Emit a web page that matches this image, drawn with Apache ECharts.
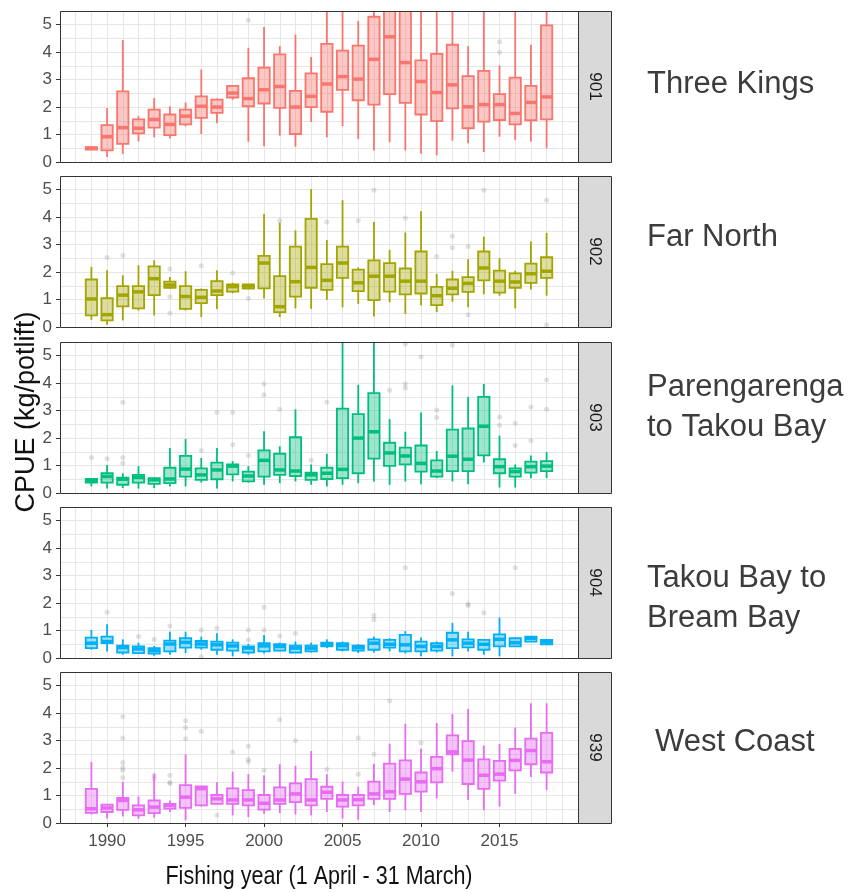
<!DOCTYPE html>
<html>
<head>
<meta charset="utf-8">
<script src="https://cdn.jsdelivr.net/npm/echarts@6/dist/echarts.min.js"></script>
<style>
  html, body { margin: 0; padding: 0; background: #fff; }
  #chart { width: 853px; height: 892px; }
</style>
</head>
<body>
<div id="chart"></div>
<script>
// Fishing years (1 April - 31 March)
const years = [1989, 1990, 1991, 1992, 1993, 1994, 1995, 1996, 1997, 1998,
               1999, 2000, 2001, 2002, 2003, 2004, 2005, 2006, 2007, 2008,
               2009, 2010, 2011, 2012, 2013, 2014, 2015, 2016, 2017, 2018];

const areaCodes = ['901', '902', '903', '904', '939'];
const areaNames = ['Three Kings', 'Far North', 'Parengarenga\nto Takou Bay', 'Takou Bay to\nBream Bay', 'West Coast'];

const yTicks = [0, 1, 2, 3, 4, 5];
const xTicks = [1990, 1995, 2000, 2005, 2010, 2015];

// CPUE (kg/potlift) per year: [lower whisker, Q1, median, Q3, upper whisker]
const cpue901 = [
  [0.44, 0.45, 0.50, 0.54, 0.56], [0.18, 0.42, 0.92, 1.34, 1.97], [0.30, 0.66, 1.25, 2.57, 4.44],
  [0.75, 1.04, 1.23, 1.55, 1.67], [0.90, 1.25, 1.55, 1.91, 2.33], [0.86, 0.98, 1.37, 1.73, 2.03],
  [1.30, 1.37, 1.67, 1.91, 2.17], [1.02, 1.61, 2.03, 2.39, 3.37], [1.41, 1.79, 2.00, 2.27, 2.31],
  [2.27, 2.35, 2.51, 2.77, 2.77], [0.74, 2.03, 2.31, 3.05, 4.16], [0.57, 2.13, 2.63, 3.44, 4.92],
  [0.96, 1.97, 2.75, 3.92, 4.22], [0.56, 1.02, 2.00, 2.59, 4.64], [1.46, 2.00, 2.39, 3.23, 3.82],
  [0.90, 1.83, 2.84, 4.30, 6.00], [1.31, 2.63, 3.11, 4.06, 5.80], [0.84, 2.25, 3.02, 4.24, 5.14],
  [0.42, 2.09, 3.74, 5.29, 6.20], [0.72, 2.47, 4.56, 5.80, 7.00], [0.42, 2.15, 3.62, 5.70, 7.00],
  [0.30, 1.73, 2.93, 3.70, 6.00], [0.24, 1.49, 2.53, 3.94, 6.00], [0.78, 1.95, 2.81, 4.27, 6.00],
  [0.68, 1.23, 2.01, 3.13, 4.22], [0.36, 1.47, 2.09, 3.32, 6.00], [0.92, 1.53, 2.09, 2.47, 3.52],
  [0.80, 1.37, 1.77, 3.07, 6.00], [0.75, 1.52, 2.17, 2.77, 4.27], [0.50, 1.55, 2.37, 4.98, 6.00]
];
const cpue902 = [
  [0.26, 0.42, 1.02, 1.73, 2.19], [0.08, 0.24, 0.45, 1.05, 2.07], [0.24, 0.75, 1.16, 1.49, 1.88],
  [0.60, 0.68, 1.28, 1.49, 2.25], [0.42, 1.16, 1.76, 2.21, 2.43], [1.40, 1.43, 1.53, 1.65, 1.82],
  [0.60, 0.66, 1.11, 1.49, 2.03], [0.36, 0.87, 1.08, 1.35, 1.40], [0.66, 1.16, 1.31, 1.67, 2.07],
  [1.23, 1.29, 1.47, 1.55, 1.61], [1.38, 1.40, 1.49, 1.55, 1.57], [1.04, 1.41, 2.33, 2.59, 4.12],
  [0.36, 0.54, 0.74, 1.85, 3.80], [0.68, 1.11, 1.65, 2.93, 3.52], [0.66, 1.43, 2.17, 3.94, 5.02],
  [0.99, 1.35, 1.70, 2.29, 3.17], [0.72, 1.79, 2.33, 2.93, 4.62], [0.84, 1.31, 1.61, 2.09, 2.17],
  [0.38, 0.98, 1.85, 2.43, 3.82], [0.90, 1.29, 1.85, 2.33, 2.81], [0.48, 1.19, 1.67, 2.13, 3.44],
  [0.78, 1.22, 1.67, 2.75, 4.22], [0.54, 0.80, 1.14, 1.46, 1.94], [0.92, 1.19, 1.41, 1.73, 2.05],
  [0.72, 1.28, 1.59, 1.82, 2.47], [1.19, 1.70, 2.15, 2.75, 3.29], [1.14, 1.25, 1.67, 2.05, 2.51],
  [0.68, 1.43, 1.64, 1.95, 2.05], [1.37, 1.61, 1.94, 2.31, 3.11], [1.14, 1.79, 2.03, 2.54, 3.43]
];
const cpue903 = [
  [0.24, 0.38, 0.45, 0.51, 0.54], [0.16, 0.38, 0.60, 0.72, 1.02], [0.18, 0.30, 0.50, 0.56, 0.72],
  [0.16, 0.38, 0.57, 0.66, 0.98], [0.18, 0.33, 0.48, 0.54, 0.56], [0.24, 0.36, 0.51, 0.92, 1.64],
  [0.24, 0.60, 0.87, 1.35, 1.97], [0.38, 0.48, 0.66, 0.90, 1.28], [0.16, 0.50, 0.84, 1.11, 1.64],
  [0.42, 0.68, 0.98, 1.04, 1.16], [0.38, 0.42, 0.62, 0.78, 0.98], [0.30, 0.60, 1.19, 1.55, 2.25],
  [0.36, 0.66, 0.84, 1.43, 1.70], [0.42, 0.62, 0.80, 2.03, 3.05], [0.30, 0.48, 0.66, 0.74, 1.04],
  [0.24, 0.51, 0.72, 0.92, 1.43], [0.30, 0.54, 0.86, 3.07, 6.00], [0.36, 0.72, 2.00, 2.87, 3.94],
  [0.42, 1.25, 2.23, 3.64, 6.00], [0.30, 0.99, 1.46, 1.83, 2.69], [0.42, 1.04, 1.35, 1.65, 2.23],
  [0.32, 0.78, 1.08, 1.73, 2.93], [0.54, 0.60, 0.80, 1.19, 1.53], [0.42, 0.80, 1.34, 2.31, 3.92],
  [0.32, 0.80, 1.23, 2.35, 3.50], [1.11, 1.37, 2.43, 3.50, 3.97], [0.20, 0.72, 0.96, 1.23, 2.09],
  [0.20, 0.60, 0.78, 0.90, 1.04], [0.54, 0.74, 0.96, 1.14, 1.37], [0.54, 0.80, 0.98, 1.16, 1.49]
];
const cpue904 = [
  [0.30, 0.36, 0.54, 0.74, 1.02], [0.24, 0.54, 0.60, 0.78, 1.23], [0.12, 0.20, 0.38, 0.45, 0.68],
  [0.16, 0.18, 0.33, 0.42, 0.56], [0.08, 0.16, 0.27, 0.36, 0.44], [0.12, 0.24, 0.51, 0.63, 0.96],
  [0.18, 0.38, 0.57, 0.72, 0.96], [0.30, 0.38, 0.51, 0.62, 0.78], [0.12, 0.30, 0.48, 0.60, 0.90],
  [0.06, 0.27, 0.44, 0.56, 0.68], [0.12, 0.20, 0.36, 0.42, 0.51], [0.16, 0.24, 0.44, 0.54, 0.84],
  [0.24, 0.27, 0.42, 0.50, 0.56], [0.18, 0.20, 0.36, 0.45, 0.60], [0.20, 0.24, 0.36, 0.45, 0.56],
  [0.36, 0.42, 0.50, 0.56, 0.68], [0.24, 0.30, 0.45, 0.54, 0.60], [0.18, 0.27, 0.38, 0.45, 0.50],
  [0.20, 0.30, 0.54, 0.68, 0.78], [0.24, 0.38, 0.50, 0.66, 0.72], [0.16, 0.24, 0.48, 0.84, 0.98],
  [0.06, 0.24, 0.42, 0.60, 0.75], [0.20, 0.27, 0.42, 0.54, 0.60], [0.06, 0.36, 0.66, 0.92, 1.28],
  [0.24, 0.39, 0.54, 0.68, 0.96], [0.12, 0.30, 0.50, 0.66, 0.68], [0.06, 0.42, 0.68, 0.86, 1.47],
  [0.42, 0.42, 0.56, 0.72, 0.75], [0.58, 0.60, 0.72, 0.78, 0.80], [0.48, 0.50, 0.60, 0.66, 0.68]
];
const cpue939 = [
  [0.31, 0.37, 0.52, 1.24, 2.22], [0.16, 0.40, 0.55, 0.67, 0.67], [0.24, 0.48, 0.82, 0.91, 1.50],
  [0.16, 0.28, 0.48, 0.64, 0.97], [0.19, 0.36, 0.58, 0.82, 1.80], [0.40, 0.52, 0.64, 0.70, 0.82],
  [0.10, 0.55, 0.94, 1.38, 2.50], [0.60, 0.64, 1.25, 1.33, 1.33], [0.70, 0.70, 0.88, 1.02, 1.48],
  [0.28, 0.70, 0.84, 1.26, 1.87], [0.22, 0.64, 0.84, 1.20, 1.78], [0.34, 0.49, 0.72, 1.02, 1.74],
  [0.36, 0.70, 0.84, 1.30, 2.14], [0.31, 0.76, 1.06, 1.44, 2.08], [0.28, 0.64, 0.84, 1.60, 2.62],
  [0.40, 0.88, 1.12, 1.32, 1.78], [0.16, 0.60, 0.84, 1.02, 1.51], [0.12, 0.64, 0.85, 1.02, 1.32],
  [0.66, 0.88, 1.06, 1.51, 2.16], [0.40, 0.88, 1.14, 2.16, 2.89], [0.46, 1.06, 1.60, 2.28, 3.61],
  [0.40, 1.14, 1.50, 1.84, 2.70], [0.90, 1.48, 1.98, 2.41, 3.64], [1.87, 2.50, 2.59, 3.19, 3.97],
  [0.84, 1.42, 2.29, 2.98, 4.15], [0.46, 1.24, 1.74, 2.32, 2.82], [0.60, 1.54, 1.78, 2.26, 2.88],
  [1.06, 1.92, 2.28, 2.70, 3.48], [1.68, 2.14, 2.64, 3.07, 4.36], [1.20, 1.84, 2.23, 3.28, 4.36]
];

// Outlying observations: [year, CPUE]
const outliers901 = [[1999, 5.16], [2015, 4.38], [2015, 4.00]];
const outliers902 = [
  [1990, 2.53], [1991, 2.60], [1994, 2.11], [1994, 1.10], [1994, 0.50], [1996, 2.23], [1998, 1.97],
  [1999, 1.04], [2001, 3.88], [2004, 3.82], [2006, 3.88], [2007, 4.98], [2009, 3.97], [2011, 2.57],
  [2012, 3.31], [2012, 2.89], [2013, 2.93], [2013, 0.45], [2014, 4.98], [2018, 4.62], [2018, 0.08]
];
const outliers903 = [
  [1989, 1.29], [1990, 1.25], [1991, 3.31], [1991, 1.29], [1991, 1.08], [1996, 1.55], [1997, 2.93],
  [1998, 2.93], [1998, 1.76], [1999, 1.37], [2000, 3.97], [2000, 3.58], [2001, 3.05], [2003, 1.19],
  [2004, 3.31], [2008, 3.74], [2009, 3.97], [2009, 3.82], [2009, 5.43], [2010, 4.96], [2011, 3.02],
  [2011, 2.75], [2012, 5.38], [2015, 2.77], [2015, 2.47], [2016, 2.54], [2016, 1.73], [2017, 3.13],
  [2017, 1.91], [2018, 4.12], [2018, 3.05]
];
const outliers904 = [
  [1990, 1.67], [1992, 0.78], [1993, 0.68], [1994, 1.17], [1996, 1.02], [1996, 0.05], [1997, 1.08],
  [1999, 1.02], [1999, 0.66], [2000, 1.85], [2000, 1.02], [2001, 0.80], [2002, 0.90], [2007, 1.55],
  [2007, 1.40], [2009, 3.29], [2012, 2.35], [2013, 1.97], [2013, 1.91], [2014, 1.65], [2016, 3.29]
];
const outliers939 = [
  [1991, 3.88], [1991, 3.10], [1991, 2.20], [1991, 2.02], [1991, 1.92], [1991, 1.66], [1993, 1.72],
  [1993, 1.60], [1994, 1.74], [1994, 1.48], [1994, 1.44], [1995, 3.72], [1995, 3.48], [1995, 3.07],
  [1996, 3.34], [1997, 0.28], [1998, 2.59], [1999, 2.80], [1999, 2.32], [1999, 2.23], [2000, 1.92],
  [2001, 3.76], [2002, 3.00], [2004, 1.96], [2006, 3.10], [2006, 1.78], [2007, 2.50], [2008, 4.45],
  [2010, 2.92]
];

const cpueByArea = [cpue901, cpue902, cpue903, cpue904, cpue939];
const outliersByArea = [outliers901, outliers902, outliers903, outliers904, outliers939];

// Styling
const lineColors = ['#F8766D', '#A3A500', '#00BF7D', '#00B0F6', '#E76BF3'];
const fillColors = ['rgba(248,118,109,0.40)', 'rgba(163,165,0,0.38)', 'rgba(0,191,125,0.38)',
                    'rgba(0,176,246,0.38)', 'rgba(231,107,243,0.40)'];
const FONT = "'Liberation Sans', Arial, Helvetica, sans-serif";
const GRID_LINE = '#e6e6e6';

// Facet layout
const PANEL_TOPS = [11, 176, 342, 507, 672];
const PANEL_H = 151;
const PANEL_LEFT = 60;
const PANEL_W = 518;
const STRIP_W = 33;
const BOX_HALF = 0.36;
const N = PANEL_TOPS.length;

function boxRenderer(stroke, fill) {
  return function (params, api) {
    const x = api.value(0);
    const lo = api.value(1), q1 = api.value(2), med = api.value(3), q3 = api.value(4), hi = api.value(5);
    const tl = api.coord([x - BOX_HALF, q3]);
    const br = api.coord([x + BOX_HALF, q1]);
    const m0 = api.coord([x - BOX_HALF, med]);
    const m1 = api.coord([x + BOX_HALF, med]);
    const top = api.coord([x, hi]);
    const bot = api.coord([x, lo]);
    const cx = top[0];
    return {
      type: 'group',
      children: [
        { type: 'line', shape: { x1: cx, y1: top[1], x2: cx, y2: tl[1] }, style: { stroke: stroke, lineWidth: 1.8 } },
        { type: 'line', shape: { x1: cx, y1: br[1], x2: cx, y2: bot[1] }, style: { stroke: stroke, lineWidth: 1.8 } },
        { type: 'rect', shape: { x: tl[0], y: tl[1], width: br[0] - tl[0], height: br[1] - tl[1] },
          style: { fill: fill, stroke: stroke, lineWidth: 1.8 } },
        { type: 'line', shape: { x1: m0[0], y1: m0[1], x2: m1[0], y2: m1[1] }, style: { stroke: stroke, lineWidth: 3.5 } }
      ]
    };
  };
}

const grids = [], xAxes = [], yAxes = [], series = [], graphics = [];
const plainLabel = function (v) { return String(v); };

// axes 0..N-1 carry ticks and labels, axes N..2N-1 carry the background grid lines
PANEL_TOPS.forEach(function (top, i) {
  const isBottom = i === N - 1;
  grids.push({ left: PANEL_LEFT, top: top, width: PANEL_W, height: PANEL_H, show: false });

  xAxes[i] = {
    type: 'value', gridIndex: i, position: 'bottom', min: 1987, max: 2020, interval: 1,
    axisLine: { show: false },
    splitLine: { show: false },
    axisTick: { show: isBottom, customValues: xTicks, length: 4, lineStyle: { color: '#333', width: 1 } },
    axisLabel: { show: isBottom, customValues: xTicks, formatter: plainLabel, margin: 10,
                 fontSize: 17, color: '#4d4d4d', fontFamily: FONT }
  };
  xAxes[N + i] = {
    type: 'value', gridIndex: i, position: 'top', min: 1987, max: 2020, interval: 1,
    axisLine: { show: false }, axisTick: { show: false }, axisLabel: { show: false },
    splitLine: { show: true, lineStyle: { color: GRID_LINE, width: 1 } }
  };

  yAxes[i] = {
    type: 'value', gridIndex: i, position: 'left', min: 0, max: 5.5, interval: 0.5,
    axisLine: { show: false },
    splitLine: { show: false },
    axisTick: { show: true, customValues: yTicks, length: 4, lineStyle: { color: '#333', width: 1 } },
    axisLabel: { customValues: yTicks, formatter: plainLabel, margin: 8,
                 fontSize: 17, color: '#4d4d4d', fontFamily: FONT }
  };
  yAxes[N + i] = {
    type: 'value', gridIndex: i, position: 'right', min: 0, max: 5.5, interval: 0.5,
    axisLine: { show: false }, axisTick: { show: false }, axisLabel: { show: false },
    splitLine: { show: true, lineStyle: { color: GRID_LINE, width: 1 } }
  };

  series.push({
    type: 'scatter', xAxisIndex: i, yAxisIndex: i, clip: true, silent: true, z: 2,
    symbolSize: 5, itemStyle: { color: 'rgba(140,140,140,0.32)' },
    data: outliersByArea[i]
  });

  series.push({
    type: 'custom', xAxisIndex: i, yAxisIndex: i, clip: true, silent: true, z: 3,
    renderItem: boxRenderer(lineColors[i], fillColors[i]),
    encode: { x: 0, y: [1, 2, 3, 4, 5] },
    data: years.map(function (y, k) { return [y].concat(cpueByArea[i][k]); })
  });

  // panel border
  graphics.push({
    type: 'rect', z: 100, silent: true,
    shape: { x: PANEL_LEFT + 0.5, y: top + 0.5, width: PANEL_W, height: PANEL_H },
    style: { fill: 'none', stroke: '#333', lineWidth: 1 }
  });
  // facet strip
  graphics.push({
    type: 'rect', z: 100, silent: true,
    shape: { x: PANEL_LEFT + PANEL_W + 0.5, y: top + 0.5, width: STRIP_W, height: PANEL_H },
    style: { fill: '#d9d9d9', stroke: '#333', lineWidth: 1 }
  });
  graphics.push({
    type: 'text', z: 101, silent: true,
    x: PANEL_LEFT + PANEL_W + STRIP_W / 2 + 0.5, y: top + PANEL_H / 2,
    rotation: -Math.PI / 2,
    style: { text: areaCodes[i], fontSize: 17, fontFamily: FONT, fill: '#1a1a1a',
             align: 'center', verticalAlign: 'middle', textAlign: 'center', textVerticalAlign: 'middle' }
  });
});

// area names beside each facet
const nameCentres = [84, 237, 407, 598, 742];
areaNames.forEach(function (name, i) {
  graphics.push({
    type: 'text', z: 101, silent: true,
    x: i === 4 ? 655 : 647, y: nameCentres[i],
    style: { text: name, fontSize: 31, lineHeight: 40, fontFamily: FONT, fill: '#3c3c3c',
             align: 'left', verticalAlign: 'middle', textAlign: 'left', textVerticalAlign: 'middle' }
  });
});

// axis titles
graphics.push({
  type: 'text', z: 101, silent: true,
  x: PANEL_LEFT + PANEL_W / 2, y: 877, scaleX: 0.86,
  style: { text: 'Fishing year (1 April - 31 March)', fontSize: 25, fontFamily: FONT, fill: '#111',
           align: 'center', verticalAlign: 'middle', textAlign: 'center', textVerticalAlign: 'middle' }
});
graphics.push({
  type: 'text', z: 101, silent: true,
  x: 27, y: 412, rotation: Math.PI / 2,
  style: { text: 'CPUE (kg/potlift)', fontSize: 27, fontFamily: FONT, fill: '#111',
           align: 'center', verticalAlign: 'middle', textAlign: 'center', textVerticalAlign: 'middle' }
});

const chart = echarts.init(document.getElementById('chart'), null, { renderer: 'canvas' });
chart.setOption({
  animation: false,
  backgroundColor: '#ffffff',
  grid: grids,
  xAxis: xAxes,
  yAxis: yAxes,
  series: series,
  graphic: { elements: graphics }
});
</script>
</body>
</html>
